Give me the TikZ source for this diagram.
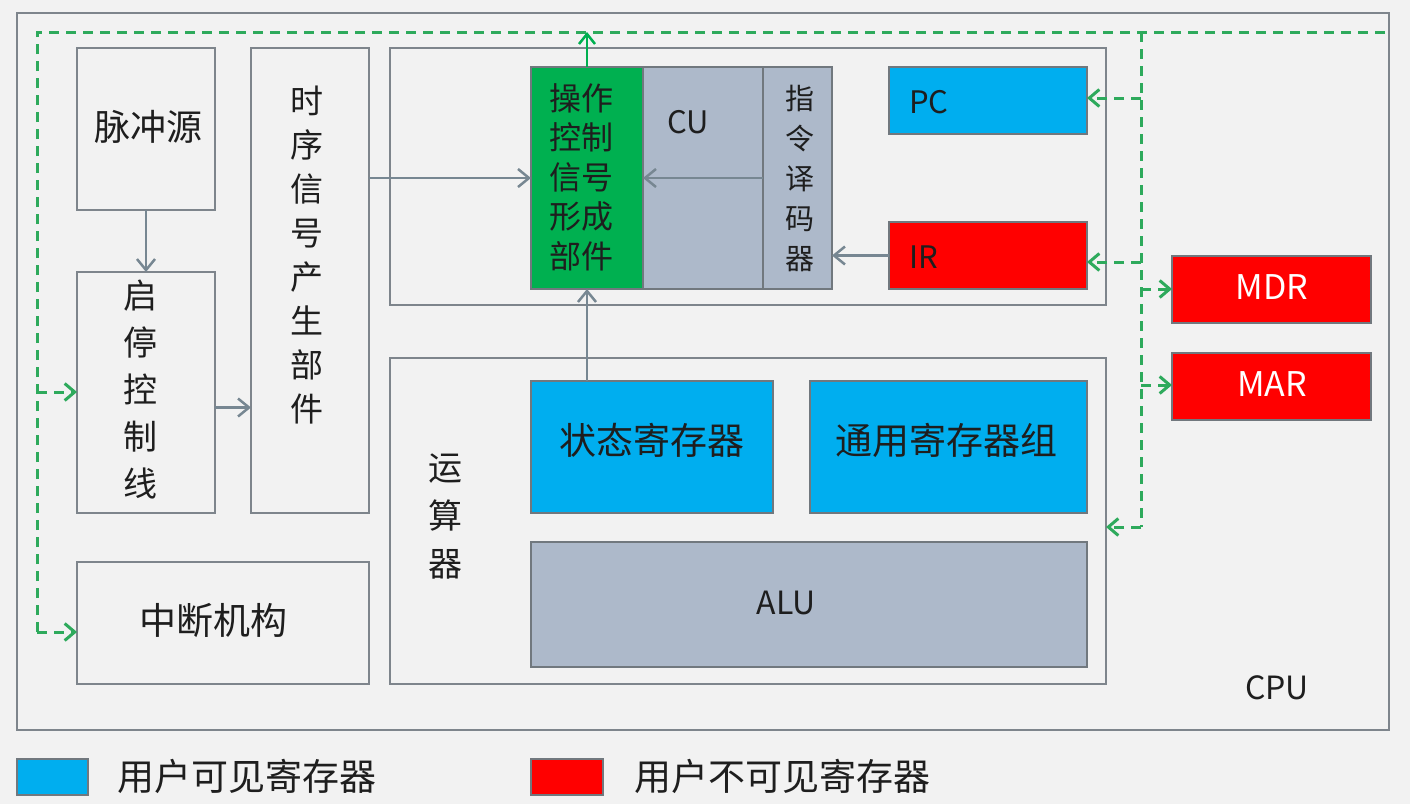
\documentclass[tikz,border=0pt]{standalone}
\usepackage{fontspec}
\setmainfont{Noto Sans CJK SC}
\usetikzlibrary{arrows.meta}
\definecolor{bg}{HTML}{F2F2F2}
\definecolor{edge}{HTML}{7E858C}
\definecolor{arr}{HTML}{778792}
\definecolor{vis}{HTML}{00AEEF}
\definecolor{invis}{HTML}{FF0000}
\definecolor{ctl}{HTML}{00B050}
\definecolor{cugray}{HTML}{ADB9CA}
\definecolor{bus}{HTML}{2EAA5C}
\definecolor{txt}{HTML}{1E1E1E}
\tikzset{
  box/.style={draw=edge, line width=2pt, rectangle, inner sep=0pt, outer sep=0pt},
  fbox/.style={box, line width=1.6pt, draw=edge!90!black},
  garrow/.style={draw=arr, line width=2.5pt, -{Straight Barb[length=11pt,width=18pt]}},
  busline/.style={draw=bus, line width=3pt, dash pattern=on 10pt off 7pt},
  busarr/.style={busline, -{Straight Barb[length=10pt,width=17pt]}},
  ctlarr/.style={draw=ctl, line width=2.5pt, -{Straight Barb[length=10pt,width=16pt]}},
  cjk/.style={text=txt, inner sep=0pt},
  lat/.style={text=txt, inner sep=0pt, font=\fontsize{31}{36}\selectfont}
}
\begin{document}
\begin{tikzpicture}[x=1pt,y=-1pt]
\fill[bg] (0,0) rectangle (1410,804);
\useasboundingbox (0,0) rectangle (1410,804);

% CPU outer
\node[box] (cpu) at (703,371.5) [minimum width=1372, minimum height=717] {};

% left column
\node[box] (mc) at (146,129) [minimum width=138, minimum height=162] {};
\node[box] (qt) at (146,392.5) [minimum width=138, minimum height=241] {};
\node[box] (ts) at (310,280.5) [minimum width=118, minimum height=465] {};
\node[box] (zd) at (223,623) [minimum width=292, minimum height=122] {};

% controller
\node[box] (ctrl) at (748,176.5) [minimum width=716, minimum height=257] {};
\node[fbox, fill=ctl] (op) at (587,178) [minimum width=112, minimum height=222] {};
\node[fbox, fill=cugray] (cu) at (703,178) [minimum width=120, minimum height=222] {};
\node[fbox, fill=cugray] (dec) at (797.5,178) [minimum width=69, minimum height=222] {};
\node[fbox, fill=vis] (pc) at (988,100.5) [minimum width=198, minimum height=67] {};
\node[fbox, fill=invis] (ir) at (988,255.5) [minimum width=198, minimum height=67] {};

% ALU unit
\node[box] (ys) at (748,521) [minimum width=716, minimum height=326] {};
\node[fbox, fill=vis] (st) at (652,447) [minimum width=242, minimum height=132] {};
\node[fbox, fill=vis] (gr) at (948.5,447) [minimum width=277, minimum height=132] {};
\node[fbox, fill=cugray] (alu) at (809,604.5) [minimum width=556, minimum height=125] {};

% MDR / MAR
\node[fbox, fill=invis] (mdr) at (1271.5,289.5) [minimum width=199, minimum height=67] {};
\node[fbox, fill=invis] (mar) at (1271.5,386.5) [minimum width=199, minimum height=67] {};

% legend
\node[fbox, fill=vis] (lg1) at (52.5,777) [minimum width=71, minimum height=36] {};
\node[fbox, fill=invis] (lg2) at (567,777) [minimum width=72, minimum height=36] {};

% labels
\node[cjk, font=\fontsize{36}{40}\selectfont] (mcl) at (148,127) {脉冲源};
\node[cjk, font=\fontsize{34}{47}\selectfont, align=center] (qtl) at (140,390) {启\\停\\控\\制\\线};
\node[cjk, font=\fontsize{33}{44}\selectfont, align=center] (tsl) at (307,255) {时\\序\\信\\号\\产\\生\\部\\件};
\node[cjk, font=\fontsize{37}{40}\selectfont] (zdl) at (213,620) {中断机构};
\node[cjk, font=\fontsize{32}{39.5}\selectfont, align=center] (opl) at (581,177) {操作\\控制\\信号\\形成\\部件};
\node[lat] (cul) at (688,122) {CU};
\node[cjk, font=\fontsize{29}{40}\selectfont, align=center] (decl) at (800,178) {指\\令\\译\\码\\器};
\node[lat, anchor=west] (pcl) at (909,102) {PC};
\node[lat, anchor=west] (irl) at (909,257) {IR};
\node[cjk, font=\fontsize{34}{48}\selectfont, align=center] (ysl) at (445,516) {运\\算\\器};
\node[cjk, font=\fontsize{37}{40}\selectfont] (stl) at (652,440) {状态寄存器};
\node[cjk, font=\fontsize{37}{40}\selectfont] (grl) at (946,440) {通用寄存器组};
\node[lat, font=\fontsize{32}{36}\selectfont] (alul) at (786,603) {ALU};
\node[lat, text=white, font=\fontsize{34}{36}\selectfont] (mdrl) at (1272,287) {MDR};
\node[lat, text=white, font=\fontsize{34}{36}\selectfont] (marl) at (1272,384) {MAR};
\node[lat, font=\fontsize{32}{36}\selectfont] (cpul) at (1277,688) {CPU};
\node[cjk, font=\fontsize{37}{40}\selectfont, anchor=west] (lg1l) at (117,776) {用户可见寄存器};
\node[cjk, font=\fontsize{37}{40}\selectfont, anchor=west] (lg2l) at (634,776) {用户不可见寄存器};

% gray arrows
\draw[garrow] (mc.south) -- (qt.north);
\draw[garrow] ([yshift=-15pt]qt.east) -- ([yshift=-15pt]qt.east -| ts.west);
\draw[garrow] (ts.east |- op.west) -- (op.west);
\draw[garrow] (dec.west) -- (cu.west);
\draw[garrow] (ir.west) -- (dec.east |- ir.west);
\draw[garrow] (op.south |- st.north) -- (op.south);

% bus (dashed)
\coordinate (tl) at (37,32);
\coordinate (tr) at (1390,32);
\coordinate (jr) at (1141,32);
\coordinate (jys) at (1141,527);
\coordinate (jpc) at (1141,98);
\coordinate (jir) at (1141,262);
\coordinate (jmdr) at (1141,289);
\coordinate (jmar) at (1141,385);
\coordinate (jqt) at (37,392);
\coordinate (jzd) at (37,632);
\draw[busline] (jzd) -- (tl) -- (tr);
\draw[busline] (jr) -- (jys);
\draw[busarr] (jys) -- (ys.east |- jys);
\draw[busarr] (jpc) -- (pc.east |- jpc);
\draw[busarr] (jir) -- (ir.east |- jir);
\draw[busarr] (jmdr) -- (mdr.west |- jmdr);
\draw[busarr] (jmar) -- (mar.west |- jmar);
\draw[busarr] (jqt) -- (qt.west |- jqt);
\draw[busarr] (jzd) -- (zd.west |- jzd);

% control signal out
\draw[ctlarr] (op.north) -- (op.north |- tl);
\end{tikzpicture}
\end{document}
